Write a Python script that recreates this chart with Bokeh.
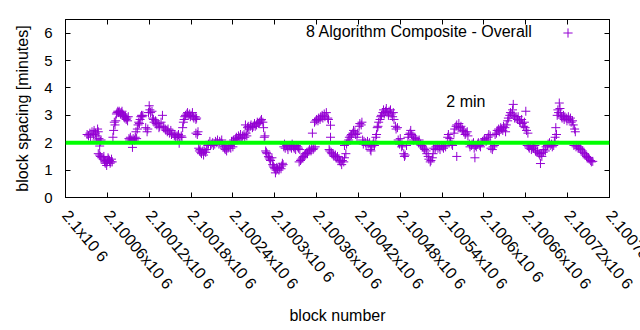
import numpy as np
from bokeh.plotting import figure
from bokeh.models import (Range1d, FixedTicker, LinearAxis, Span, Label, Legend,
                          LegendItem, ColumnDataSource, CustomJSTickFormatter)
from bokeh.embed import file_html
from bokeh.resources import INLINE

# ---------------- data ----------------
BLOCK_BASE = 2100000
block_offset = (
    [31, 33, 35, 36, 38, 40, 41, 43, 44, 46, 47]
    + [45, 48, 50, 51, 49]
    + [47, 49, 50, 52, 54, 55, 56, 57, 58, 59, 60, 61, 62, 63, 64, 65, 66, 67]
    + [68, 69, 70, 71, 72]
    + [73, 74, 75, 76, 77, 78, 79, 80, 81, 82, 83]
    + [84, 85, 86, 87, 88, 89, 90]
    + [91, 92, 93, 95, 96, 97, 99, 100, 102]
    + [101, 103, 104, 105, 106, 107, 108, 109, 110, 111]
    + [115, 117, 118]
    + [119, 120, 121, 122, 124]
    + [125, 126, 127, 129, 130, 131, 133, 135]
    + [134, 137, 139, 140, 141]
    + [143, 144, 146, 147, 149, 151, 152, 154]
    + [156, 157, 158, 160, 161, 162, 163, 164, 166, 167]
    + [168, 169]
    + [170, 171, 172, 174, 175, 176, 178, 179, 180, 182, 183, 184, 186, 187, 188]
    + [187, 189, 190]
    + [191, 192, 193, 194, 195, 197, 198, 199, 201, 202]
    + [204, 205, 207, 208, 209, 211, 212, 214, 215, 217, 218, 220, 221, 223, 224, 225]
    + [227, 228, 229, 230, 231, 233, 234, 236, 237, 239, 240]
    + [238, 241, 242, 244, 245, 247, 248, 250, 251, 253, 254, 256, 257, 259, 260]
    + [258, 261, 262, 263, 265, 266, 268, 269, 271, 272, 274, 275, 277]
    + [278, 280, 281, 283, 284, 285, 286]
    + [287, 288, 289, 291, 292, 293, 294, 296]
    + [297, 298, 299, 300, 301, 302, 303, 304, 306, 307, 309, 310, 311, 312]
    + [313, 314, 315, 317, 318, 319, 321, 322, 324, 325, 327, 328, 330, 331, 333, 334, 336]
    + [335, 337, 338, 340, 341, 343, 344, 346, 347, 349, 350, 352, 353, 355, 356, 358]
    + [354, 380]
    + [357, 359, 360, 362, 363, 365, 366, 368, 369, 371, 372, 374, 376, 377]
    + [378, 379, 381, 382, 384, 385, 387, 388, 390, 391, 393, 394, 396, 397, 399, 400, 402]
    + [380, 400]
    + [403, 404, 406, 407, 409, 410, 412, 413, 415, 416, 418, 419, 421, 422, 424, 425]
    + [426, 427, 428, 430, 431, 433, 434, 436, 437, 438, 439, 441, 442, 443, 445, 446]
    + [447, 448, 449, 451, 452, 453, 455, 456, 457, 459, 460, 461, 463, 464, 466, 467, 469, 470, 471, 473, 474, 476]
    + [477, 478, 479, 480, 482, 483, 485, 486, 487, 489]
    + [491, 492, 494, 495, 496, 498, 499, 501, 502, 504]
    + [506, 507, 509, 511, 512, 514, 515, 517, 518, 520, 521, 523, 524, 526, 527]
    + [528, 530, 531, 533, 534, 536, 537, 539, 540, 542, 543, 545]
    + [548, 549, 551, 552, 554, 555]
    + [557, 558, 560, 561, 563, 564, 566, 567, 569, 570, 561]
    + [571, 573, 574, 576, 577]
    + [579, 580, 582, 583, 585, 586, 588, 589, 591, 592, 594, 595, 597, 587]
    + [598, 600, 601, 603, 604, 606, 607, 609]
    + [610, 612, 613, 615]
    + [616, 618, 619, 621, 622, 624, 625, 627, 628, 630, 631]
    + [632, 634, 635, 637, 638, 640, 641, 643, 644, 642]
    + [646, 648, 649, 651, 652, 654, 655, 657, 658, 659, 660]
    + [661, 663]
    + [662, 664, 665, 667, 668, 670, 671, 673, 674]
    + [676, 677, 679, 680, 682, 683, 685, 686, 688, 681]
    + [689, 691, 692, 694, 695, 697, 698, 700, 701]
    + [702, 703, 704]
    + [705, 706, 707, 708, 709, 710]
    + [711, 712, 714, 715, 716, 718, 719, 721, 722, 724, 725, 727]
    + [728, 730, 731]
    + [729, 732, 733, 735, 736, 738, 739, 741, 742, 744, 745, 747, 748, 750, 751, 753, 754, 756]
)
spacing_min = (
    [2.3, 2.25, 2.35, 2.2, 2.4, 2.3, 2.45, 2.35, 2.25, 2.5, 2.4]
    + [2.1, 2.15, 2.05, 2.1, 1.88]
    + [1.6, 1.55, 1.5, 1.45, 1.4, 1.5, 1.3, 1.25, 1.35, 1.17, 1.3, 1.45, 1.4, 1.35, 1.25, 1.3, 1.4, 1.3]
    + [2.2, 2.45, 2.75, 2.65, 2.8]
    + [3.05, 3.1, 3.15, 3.1, 3.15, 3.1, 3.05, 3.1, 3.15, 3.05, 3.0]
    + [2.95, 2.9, 2.95, 2.85, 2.9, 2.8, 2.95]
    + [2.15, 2.1, 2.2, 2.1, 1.83, 2.15, 2.1, 2.2, 2.15]
    + [2.4, 2.5, 2.65, 2.75, 2.7, 2.85, 2.95, 3.0, 2.95, 3.0]
    + [2.55, 2.4, 2.5]
    + [3.1, 3.35, 3.2, 3.1, 3.15]
    + [2.9, 2.85, 2.75, 2.8, 2.7, 2.65, 2.7, 2.6]
    + [2.55, 2.75, 3.0, 2.6, 2.55]
    + [2.5, 2.45, 2.4, 2.5, 2.35, 2.45, 2.3, 2.35]
    + [2.25, 2.3, 2.2, 2.25, 2.2, 2.3, 1.98, 2.2, 2.25, 2.2]
    + [2.55, 2.75]
    + [2.85, 2.95, 3.0, 3.05, 3.1, 3.0, 3.05, 2.95, 3.0, 3.1, 2.95, 2.9, 2.95, 2.85, 2.9]
    + [2.35, 2.3, 2.4]
    + [1.8, 1.7, 1.75, 1.65, 1.6, 1.7, 1.55, 1.7, 1.65, 1.75]
    + [1.9, 1.95, 2.05, 1.9, 1.95, 2.0, 1.9, 1.95, 2.05, 2.0, 2.1, 1.95, 2.05, 2.0, 2.1, 1.95]
    + [1.85, 1.8, 1.75, 1.9, 1.7, 1.8, 1.85, 1.9, 1.8, 1.95, 1.85]
    + [2.05, 2.1, 2.0, 2.15, 2.2, 2.1, 2.25, 2.2, 2.3, 2.15, 2.25, 2.3, 2.2, 2.35, 2.25]
    + [2.65, 2.55, 2.6, 2.5, 2.6, 2.65, 2.55, 2.6, 2.7, 2.6, 2.65, 2.75, 2.7]
    + [2.75, 2.8, 2.85, 2.75, 2.55, 2.2, 2.25]
    + [1.7, 1.65, 1.6, 1.5, 1.45, 1.4, 1.35, 1.45]
    + [1.2, 1.15, 1.1, 1.05, 0.9, 1.0, 1.1, 1.05, 1.0, 1.1, 1.05, 1.15, 1.25, 1.2]
    + [1.85, 1.95, 1.8, 1.9, 1.85, 1.75, 1.9, 1.85, 1.8, 1.95, 1.85, 1.8, 1.75, 1.9, 1.85, 1.8, 1.75]
    + [1.3, 1.35, 1.4, 1.45, 1.5, 1.55, 1.6, 1.65, 1.6, 1.7, 1.75, 1.7, 1.8, 1.75, 1.8, 1.85]
    + [2.35, 2.2]
    + [2.75, 2.8, 2.85, 2.8, 2.9, 2.85, 2.95, 3.0, 2.9, 3.05, 2.95, 3.1, 2.9, 2.85]
    + [1.75, 1.7, 1.65, 1.6, 1.55, 1.5, 1.55, 1.45, 1.5, 1.4, 1.35, 1.3, 1.2, 1.35, 1.3, 1.45, 1.6]
    + [2.64, 1.9]
    + [1.95, 2.05, 2.1, 2.2, 2.25, 2.3, 2.35, 2.45, 2.4, 2.3, 2.2, 2.35, 2.6, 2.7, 2.65, 2.75]
    + [2.1, 1.95, 2.05, 2.0, 1.9, 2.05, 1.95, 2.0, 1.75, 1.7, 1.85, 1.95, 2.05, 1.9, 2.2, 2.3]
    + [2.55, 2.6, 2.75, 2.85, 2.95, 3.0, 3.1, 3.2, 3.05, 3.15, 3.25, 3.1, 3.0, 3.15, 3.2, 3.05, 2.95, 3.1, 2.85, 2.6, 2.5, 2.55]
    + [2.1, 2.0, 1.95, 2.15, 1.85, 1.9, 1.6, 1.5, 1.55, 1.9]
    + [2.2, 2.3, 2.35, 2.45, 2.3, 2.25, 2.1, 2.2, 2.15, 2.05]
    + [2.0, 2.1, 1.95, 1.9, 1.85, 1.8, 1.75, 1.7, 1.6, 1.5, 1.4, 1.3, 1.35, 1.45, 1.6]
    + [1.8, 1.75, 1.85, 1.9, 1.8, 1.85, 1.75, 1.9, 1.85, 1.8, 1.9, 1.85]
    + [2.2, 2.3, 2.15, 2.05, 1.95, 1.9]
    + [2.35, 2.5, 2.6, 2.65, 2.55, 2.7, 2.55, 2.6, 2.5, 2.45, 1.5]
    + [2.4, 2.3, 2.35, 2.4, 2.25]
    + [1.95, 1.85, 1.9, 1.95, 2.0, 1.8, 1.9, 1.85, 1.95, 2.0, 1.9, 1.85, 2.0, 1.45]
    + [2.05, 2.1, 2.15, 2.05, 2.1, 2.2, 2.3, 2.25]
    + [1.8, 1.75, 1.85, 1.9]
    + [2.3, 2.35, 2.45, 2.5, 2.4, 2.55, 2.5, 2.45, 2.6, 2.55, 2.4]
    + [2.65, 2.8, 2.9, 3.0, 3.1, 3.05, 3.2, 3.0, 2.9, 3.4]
    + [2.95, 2.85, 2.95, 2.8, 2.75, 2.85, 2.7, 2.6, 2.75, 2.55, 3.15]
    + [2.45, 2.35]
    + [1.9, 1.85, 1.8, 1.9, 1.75, 1.85, 1.8, 1.9, 1.7]
    + [1.65, 1.7, 1.6, 1.55, 1.6, 1.5, 1.65, 1.75, 1.7, 1.24]
    + [1.85, 1.9, 1.95, 2.0, 1.9, 1.95, 1.85, 1.9, 2.05]
    + [2.2, 2.55, 2.3]
    + [3.0, 3.2, 3.1, 3.45, 3.25, 3.05]
    + [2.95, 2.9, 3.0, 2.85, 2.95, 2.9, 2.8, 2.95, 2.85, 2.9, 2.75, 2.8]
    + [2.65, 2.5, 2.4]
    + [1.9, 1.85, 1.9, 1.8, 1.85, 1.8, 1.75, 1.7, 1.65, 1.6, 1.55, 1.5, 1.45, 1.45, 1.4, 1.35, 1.3, 1.32]
)
n = min(len(block_offset), len(spacing_min))
block_number = [BLOCK_BASE + b for b in block_offset[:n]]
spacing = spacing_min[:n]

x_ticks = [2100000, 2100060, 2100120, 2100180, 2100240, 2100300, 2100360,
           2100420, 2100480, 2100540, 2100600, 2100660, 2100720, 2100780]
x_tick_labels = ["2.1x10 6", "2.10006x10 6", "2.10012x10 6", "2.10018x10 6",
                 "2.10024x10 6", "2.1003x10 6", "2.10036x10 6", "2.10042x10 6",
                 "2.10048x10 6", "2.10054x10 6", "2.1006x10 6", "2.10066x10 6",
                 "2.10072x10 6", "2.10078x10 6"]
y_ticks = [0, 1, 2, 3, 4, 5, 6]
target_minutes = 2
series_name = "8 Algorithm Composite - Overall"
target_label = "2 min"
x_title = "block number"
y_title = "block spacing [minutes]"

# ---------------- style ----------------
FONT = "Liberation Sans"
PURPLE = "#9400d3"
GREEN = "#00ff00"

p = figure(width=640, height=330, output_backend="svg", toolbar_location=None,
           x_range=Range1d(2100000, 2100780), y_range=Range1d(0, 6.5),
           min_border_left=65, min_border_right=31, min_border_top=19,
           min_border_bottom=133)
p.background_fill_color = "white"
p.border_fill_color = "white"
p.outline_line_color = "black"
p.outline_line_width = 1
p.xgrid.visible = False
p.ygrid.visible = False

src = ColumnDataSource(dict(block=block_number, spacing=spacing))
r = p.scatter(x="block", y="spacing", source=src, marker="cross", size=9,
              line_color=PURPLE, line_width=1)

# bottom axis: the last tick is repeated with an empty label so that the real
# last label keeps its place at the right edge (as in the gnuplot original)
xa = p.xaxis[0]
xa.ticker = FixedTicker(ticks=x_ticks + [x_ticks[-1]])
xa.formatter = CustomJSTickFormatter(
    args=dict(vals=x_ticks, labels=x_tick_labels),
    code="""
        const k = vals.indexOf(tick);
        if (k < 0) return '';
        if (index > 0 && ticks[index - 1] == tick) return '';
        return labels[k];
    """)
xa.major_label_orientation = -np.deg2rad(50)
xa.major_label_standoff = 15
xa.major_label_text_font_size = "16px"
xa.axis_label = x_title
xa.axis_label_standoff = 6

ya = p.yaxis[0]
ya.ticker = FixedTicker(ticks=y_ticks)
ya.major_label_standoff = 13
ya.major_label_text_font_size = "15px"
ya.axis_label = y_title
ya.axis_label_standoff = 10

for ax in (xa, ya):
    ax.major_tick_in = 5
    ax.major_tick_out = 0
    ax.minor_tick_line_color = None
    ax.axis_line_color = "black"
    ax.major_label_text_font = FONT
    ax.major_label_text_color = "black"
    ax.axis_label_text_font = FONT
    ax.axis_label_text_font_size = "16px"
    ax.axis_label_text_font_style = "normal"
    ax.axis_label_text_color = "black"

# mirrored ticks on top and right
top = LinearAxis(ticker=FixedTicker(ticks=x_ticks),
                 major_label_overrides={t: "" for t in x_ticks})
right = LinearAxis(ticker=FixedTicker(ticks=y_ticks),
                   major_label_overrides={t: "" for t in y_ticks})
for ax in (top, right):
    ax.major_tick_in = 5
    ax.major_tick_out = 0
    ax.minor_tick_line_color = None
    ax.axis_line_color = "black"
    ax.major_label_text_font_size = "0px"
    ax.major_label_standoff = 0
p.add_layout(top, "above")
p.add_layout(right, "right")

p.add_layout(Span(location=target_minutes, dimension="width",
                  line_color=GREEN, line_width=4))

p.add_layout(Label(x=2100546, y=3.5, text=target_label, text_font=FONT,
                   text_font_size="16px", text_color="black",
                   text_align="left", text_baseline="middle"))

p.add_layout(Label(x=2100670, y=6.05, text=series_name, text_font=FONT,
                   text_font_size="16px", text_color="black",
                   text_align="right", text_baseline="middle"))

legend = Legend(items=[LegendItem(label="", renderers=[r])],
                location=(490.5, 153.5), padding=0, margin=0, spacing=0,
                glyph_width=23, glyph_height=23, label_standoff=0,
                label_width=0, label_height=23, label_text_font_size="1px",
                background_fill_alpha=0, border_line_alpha=0)
p.add_layout(legend)

open("out.html", "w").write(file_html(p, INLINE))
